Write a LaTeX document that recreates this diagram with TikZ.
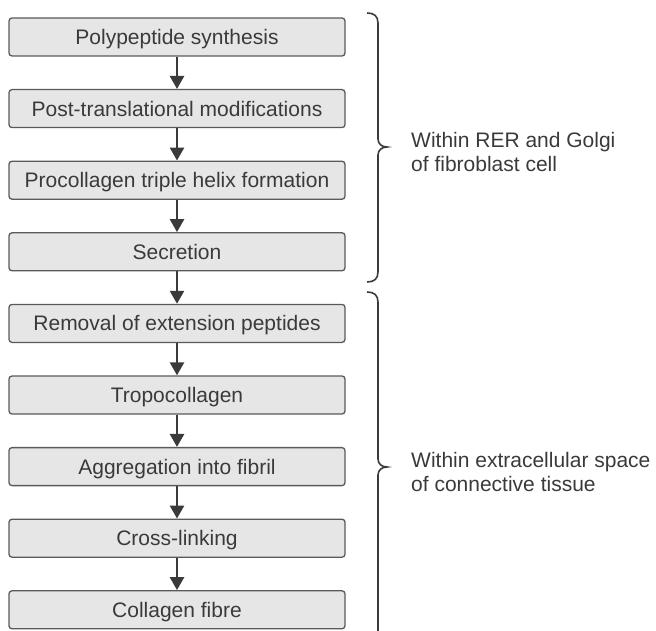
\documentclass[tikz,border=0pt]{standalone}
\usepackage{fontspec}
\setmainfont{Liberation Sans}
\usetikzlibrary{arrows.meta}
\definecolor{boxfill}{HTML}{E6E6E7}
\definecolor{boxline}{HTML}{5A5A5A}
\definecolor{ink}{HTML}{3A3A3A}
\tikzset{
  stepbox/.style={draw=boxline,fill=boxfill,line width=1.3pt,rounded corners=3pt,
    minimum width=336pt,minimum height=38pt,inner sep=0pt,text=ink,
    font=\fontsize{21}{24}\selectfont,text height=15pt,text depth=0pt},
  flow/.style={draw=ink,line width=2.6pt,-{Triangle[width=14pt,length=13pt]}},
  bracket/.style={draw=ink,line width=1.6pt},
  side/.style={anchor=west,align=left,inner sep=0pt,text=ink,
    font=\fontsize{21}{24}\selectfont}
}
\begin{document}
\begin{tikzpicture}[x=1pt,y=-1pt]
	\useasboundingbox (0,0) rectangle (656,631);
	\node[stepbox] (p1) at (177,37){Polypeptide synthesis};
	\node[stepbox] (p2) at (177,108.6){Post-translational modifications};
	\node[stepbox] (p3) at (177,180.2){Procollagen triple helix formation};
	\node[stepbox] (p4) at (177,251.8){Secretion};
	\node[stepbox] (p5) at (177,323.4){Removal of extension peptides};
	\node[stepbox] (p6) at (177,395){Tropocollagen};
	\node[stepbox] (p7) at (177,466.6){Aggregation into fibril};
	\node[stepbox] (p8) at (177,538.2){Cross-linking};
	\node[stepbox] (p9) at (177,609.8){Collagen fibre};
	\draw[flow] (p1)--(p2);
	\draw[flow] (p2)--(p3);
	\draw[flow] (p3)--(p4);
	\draw[flow] (p4)--(p5);
	\draw[flow] (p5)--(p6);
	\draw[flow] (p6)--(p7);
	\draw[flow] (p7)--(p8);
	\draw[flow] (p8)--(p9);
	% brackets
	\draw[bracket] (367,13) .. controls (374,13) and (378,16) .. (378,23)
		-- (378,139) .. controls (378,144) and (382,147) .. (387,147)
		.. controls (382,147) and (378,150) .. (378,155)
		-- (378,272) .. controls (378,279) and (374,282) .. (367,282);
	\draw[bracket] (367,292) .. controls (374,292) and (378,295) .. (378,302)
		-- (378,459) .. controls (378,464) and (382,467) .. (387,467)
		.. controls (382,467) and (378,470) .. (378,475)
		-- (378,640);
	\node[side] (rer) at (411,152){Within RER and Golgi\\of fibroblast cell};
	\node[side] (ecm) at (411,472){Within extracellular space\\of connective tissue};
\end{tikzpicture}
\end{document}
